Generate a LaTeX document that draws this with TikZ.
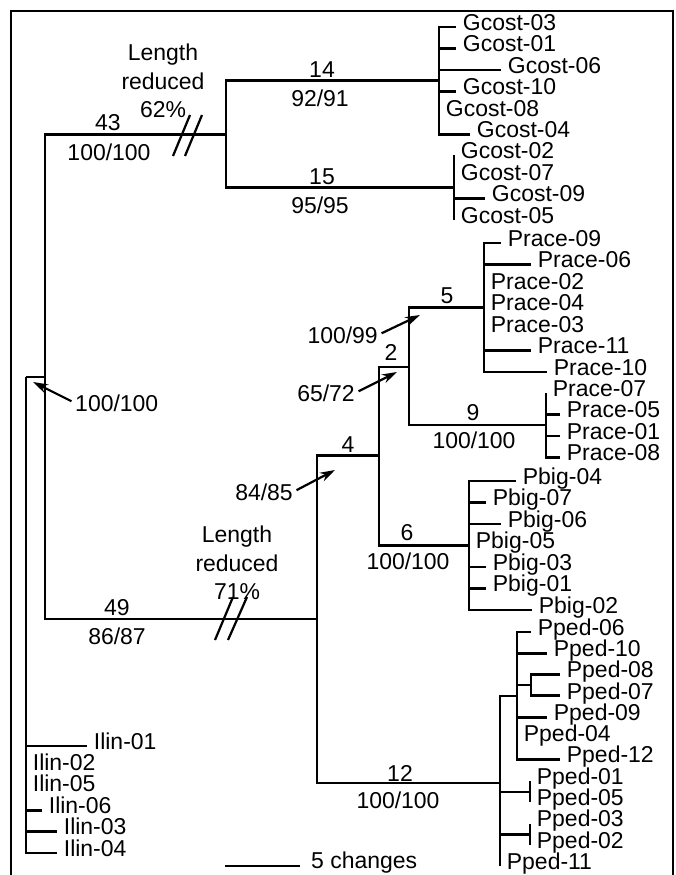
\documentclass[tikz,border=0pt]{standalone}
\usepackage{fontspec}
\setmainfont{Liberation Sans}
\usetikzlibrary{arrows.meta}

\tikzset{
  branch/.style={line width=2.5pt},
  leaf/.style={anchor=mid west, inner xsep=0.2cm, inner ysep=0pt},
  lbl/.style={inner sep=0pt, align=center},
  pointer/.style={-{Stealth[length=0.45cm,width=0.28cm]}, line width=1.9pt, shorten <=0.12cm},
  cut/.style={line width=1.9pt}
}

\begin{document}
\begin{tikzpicture}[x=0.03cm, y=-0.03cm, font=\fontsize{19.6}{24.3}\selectfont]
	\useasboundingbox (0,0) rectangle (675,875);
	\clip (0,0) rectangle (675,875);
	\draw[line width=1.9pt] (11,880) -- (11,11) -- (673,11) -- (673,880);

	% internal nodes
	\coordinate (root) at (26,377);
	\coordinate (ingroup) at (45,377);
	\coordinate (n43) at (226,134.5);
	\coordinate (n49) at (317,619);
	\coordinate (n14) at (439,80.5);
	\coordinate (n15) at (454,187.5);
	\coordinate (n4) at (379,455.5);
	\coordinate (n2) at (409,367);
	\coordinate (n5) at (484,307.5);
	\coordinate (n9) at (546,425);
	\coordinate (n6) at (469,545.5);
	\coordinate (n12) at (500,783);
	\coordinate (pped) at (517,696);
	\coordinate (pped87) at (531,685);
	\coordinate (pped15) at (530,792);
	\coordinate (pped32) at (530,834.5);

	\draw[branch] (root) -- (ingroup);
	\draw[branch] (ingroup) |- (n43);
	\draw[branch] (ingroup) |- (n49);
	\draw[branch] (n43) |- (n14);
	\draw[branch] (n43) |- (n15);
	\draw[branch] (n49) |- (n4);
	\draw[branch] (n49) |- (n12);
	\draw[branch] (n4) |- (n2);
	\draw[branch] (n4) |- (n6);
	\draw[branch] (n2) |- (n5);
	\draw[branch] (n2) |- (n9);
	\draw[branch] (n12) |- (pped);
	\draw[branch] (n12) |- (pped15);
	\draw[branch] (n12) |- (pped32);
	\draw[branch] (pped) |- (pped87);

	% leaves
	\foreach \x/\y/\lab/\up in {
		456/27/Gcost-03/n14, 456/48.5/Gcost-01/n14, 501/70/Gcost-06/n14,
		456/91.5/Gcost-10/n14, 439/113/Gcost-08/n14, 470/134.5/Gcost-04/n14,
		454/155.5/Gcost-02/n15, 454/177/Gcost-07/n15, 485/198.5/Gcost-09/n15, 454/220/Gcost-05/n15,
		501/243/Prace-09/n5, 531/264.5/Prace-06/n5, 484/286/Prace-02/n5, 484/307.5/Prace-04/n5,
		484/329/Prace-03/n5, 531/350.5/Prace-11/n5, 547/372/Prace-10/n5,
		546/393/Prace-07/n9, 560/414.5/Prace-05/n9, 560/436/Prace-01/n9, 560/457.5/Prace-08/n9,
		516/481/Pbig-04/n6, 486/502.5/Pbig-07/n6, 501/524/Pbig-06/n6, 469/545.5/Pbig-05/n6,
		486/567/Pbig-03/n6, 486/588.5/Pbig-01/n6, 532/610/Pbig-02/n6,
		531/632/Pped-06/pped, 547/653.3/Pped-10/pped, 547/717.2/Pped-09/pped,
		517/738.5/Pped-04/pped, 560/759.8/Pped-12/pped,
		560/674.6/Pped-08/pped87, 560/695.9/Pped-07/pped87,
		530/781.1/Pped-01/pped15, 530/802.4/Pped-05/pped15,
		530/823.7/Pped-03/pped32, 530/845/Pped-02/pped32,
		500/866.3/Pped-11/n12,
		87/746/Ilin-01/root, 26/767.4/Ilin-02/root, 26/788.8/Ilin-05/root,
		42/810.2/Ilin-06/root, 57/831.6/Ilin-03/root, 57/853/Ilin-04/root}
	{
		\node[leaf] (\lab) at (\x,\y) {\lab};
		\draw[branch] (\up) |- (\lab.mid west);
	}

	% branch labels
	\node[lbl] (l43) at (108,123) {43};
	\node[lbl] (s43) at (109,152) {100/100};
	\node[lbl] (l14) at (322,70) {14};
	\node[lbl] (s14) at (320,98) {92/91};
	\node[lbl] (l15) at (322,177) {15};
	\node[lbl] (s15) at (320,205) {95/95};
	\node[lbl] (red62) at (163,81) {Length\\reduced\\62\%};
	\node[lbl] (l5) at (447,296) {5};
	\node[lbl] (l2) at (391,352) {2};
	\node[lbl] (l9) at (473,413) {9};
	\node[lbl] (s9) at (474,440) {100/100};
	\node[lbl] (l4) at (348,445) {4};
	\node[lbl] (l6) at (407,533) {6};
	\node[lbl] (s6) at (408,561) {100/100};
	\node[lbl] (l49) at (117,608) {49};
	\node[lbl] (s49) at (117,636) {86/87};
	\node[lbl] (red71) at (237,563) {Length\\reduced\\71\%};
	\node[lbl] (l12) at (400,773) {12};
	\node[lbl] (s12) at (398,800) {100/100};

	% support pointers
	\coordinate (t5) at (420,315);
	\coordinate (t2) at (397,372);
	\coordinate (t4) at (335,470);
	\coordinate (troot) at (33,382);
	\node[lbl, anchor=east] (s5) at (378,335) {100/99};
	\node[lbl, anchor=east] (s2) at (355,393) {65/72};
	\node[lbl, anchor=east] (s4) at (293,492) {84/85};
	\node[lbl, anchor=west] (sroot) at (75,403) {100/100};
	\draw[pointer] (s5.east) -- (t5);
	\draw[pointer] (s2.east) -- (t2);
	\draw[pointer] (s4.east) -- (t4);
	\draw[pointer] (sroot.west) -- (troot);

	% shortened branches
	\draw[cut] (173,156) -- (190,115);
	\draw[cut] (185,156) -- (202,115);
	\draw[cut] (215,640) -- (233,597);
	\draw[cut] (228,640) -- (247,597);

	% scale bar
	\draw[branch] (225,866) -- (300,866);
	\node[lbl, anchor=mid west] (scale) at (311,865) {5 changes};
\end{tikzpicture}
\end{document}
